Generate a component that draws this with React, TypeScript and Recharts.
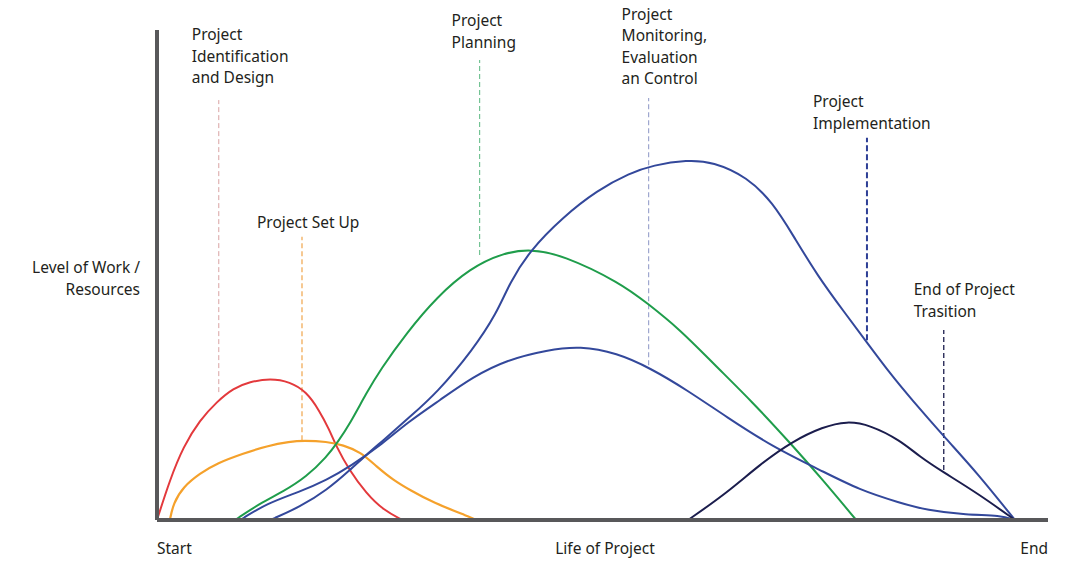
import { LineChart, Line, XAxis, YAxis, ReferenceLine } from 'recharts'

type Pt = { x: number; y: number }

// x: share of project life (0 = Start, 100 = close-out), y: level of work / resources
const identificationDesign: Pt[] = [
    { x: 0, y: 0 }, { x: 1.5, y: 8.2 }, { x: 3.07, y: 15.0 }, { x: 5.0, y: 20.4 },
    { x: 6.96, y: 24.1 }, { x: 8.9, y: 26.9 }, { x: 10.8, y: 28.2 }, { x: 13.2, y: 28.9 },
    { x: 15.5, y: 28.2 }, { x: 17.4, y: 26.2 }, { x: 18.9, y: 22.4 }, { x: 20.1, y: 18.4 },
    { x: 20.9, y: 15.0 }, { x: 22.4, y: 10.2 }, { x: 24.4, y: 5.4 }, { x: 26.4, y: 2.0 },
    { x: 28.6, y: 0 },
]

const setUp: Pt[] = [
    { x: 1.5, y: 0 }, { x: 1.9, y: 3.4 }, { x: 3.07, y: 6.8 }, { x: 5.0, y: 9.5 },
    { x: 7.0, y: 11.6 }, { x: 10.1, y: 13.6 }, { x: 12.8, y: 15.1 }, { x: 15.5, y: 16.0 },
    { x: 17.1, y: 16.2 }, { x: 19.8, y: 16.0 }, { x: 21.7, y: 15.3 }, { x: 23.7, y: 13.9 },
    { x: 25.6, y: 10.9 }, { x: 27.5, y: 8.2 }, { x: 29.5, y: 6.1 }, { x: 32.2, y: 3.5 },
    { x: 36.5, y: 0.6 }, { x: 37.2, y: 0 },
]

const planning: Pt[] = [
    { x: 9.1, y: 0 }, { x: 12.0, y: 3.4 }, { x: 14.7, y: 5.8 }, { x: 17.4, y: 8.8 },
    { x: 19.8, y: 12.9 }, { x: 21.1, y: 16.0 }, { x: 22.5, y: 19.7 }, { x: 24.4, y: 25.9 },
    { x: 26.0, y: 30.6 }, { x: 29.1, y: 38.2 }, { x: 32.6, y: 45.5 }, { x: 36.5, y: 51.4 },
    { x: 40.3, y: 54.5 }, { x: 43.5, y: 55.3 }, { x: 47.3, y: 54.1 }, { x: 54.0, y: 48.4 },
    { x: 57.1, y: 44.3 }, { x: 61.0, y: 38.8 }, { x: 64.8, y: 32.0 }, { x: 69.5, y: 23.9 },
    { x: 73.8, y: 15.7 }, { x: 77.3, y: 8.8 }, { x: 81.5, y: 0 },
]

const implementation: Pt[] = [
    { x: 13.2, y: 0 }, { x: 16.7, y: 2.7 }, { x: 19.8, y: 6.1 }, { x: 22.5, y: 10.2 },
    { x: 24.4, y: 13.3 }, { x: 26.4, y: 16.3 }, { x: 29.5, y: 21.1 }, { x: 32.6, y: 25.9 },
    { x: 36.8, y: 34.7 }, { x: 39.6, y: 42.2 }, { x: 41.1, y: 48.4 }, { x: 43.5, y: 55.1 },
    { x: 47.3, y: 61.8 }, { x: 51.3, y: 67.3 }, { x: 55.1, y: 70.8 }, { x: 57.8, y: 72.4 },
    { x: 61.8, y: 73.5 }, { x: 64.8, y: 73.1 }, { x: 68.8, y: 70.0 }, { x: 71.8, y: 64.7 },
    { x: 74.1, y: 58.2 }, { x: 77.0, y: 49.8 }, { x: 80.2, y: 42.2 }, { x: 82.8, y: 36.1 },
    { x: 85.4, y: 30.0 }, { x: 87.8, y: 24.9 }, { x: 92.1, y: 16.3 }, { x: 95.6, y: 9.6 },
    { x: 100, y: 0 },
]

const monitoring: Pt[] = [
    { x: 9.7, y: 0 }, { x: 12.8, y: 3.4 }, { x: 16.7, y: 5.8 }, { x: 19.8, y: 8.2 },
    { x: 22.5, y: 10.9 }, { x: 26.4, y: 15.7 }, { x: 29.1, y: 19.8 }, { x: 33.0, y: 24.5 },
    { x: 36.8, y: 29.2 }, { x: 40.8, y: 32.7 }, { x: 45.5, y: 34.7 }, { x: 49.3, y: 35.5 },
    { x: 53.6, y: 34.1 }, { x: 57.5, y: 31.0 }, { x: 61.8, y: 26.5 }, { x: 66.4, y: 21.0 },
    { x: 71.8, y: 14.9 }, { x: 77.3, y: 10.2 }, { x: 81.9, y: 6.1 }, { x: 86.6, y: 3.5 },
    { x: 89.7, y: 2.0 }, { x: 94.4, y: 1.0 }, { x: 98.3, y: 1.0 }, { x: 100, y: 0 },
]

const transition: Pt[] = [
    { x: 61.9, y: 0 }, { x: 66.4, y: 5.5 }, { x: 70.3, y: 11.4 }, { x: 74.1, y: 16.1 },
    { x: 77.6, y: 19.0 }, { x: 80.4, y: 20.2 }, { x: 83.1, y: 19.4 }, { x: 86.6, y: 16.3 },
    { x: 88.9, y: 12.9 }, { x: 91.6, y: 9.8 }, { x: 95.6, y: 5.5 }, { x: 100, y: 0 },
]

const curves = [
    { name: 'Project Identification and Design', data: identificationDesign, color: '#e3393c', width: 2 },
    { name: 'Project Set Up', data: setUp, color: '#f5a12b', width: 2.2 },
    { name: 'Project Planning', data: planning, color: '#1f9d4b', width: 2 },
    { name: 'Project Implementation', data: implementation, color: '#33489b', width: 2 },
    { name: 'Project Monitoring, Evaluation an Control', data: monitoring, color: '#33489b', width: 2 },
    { name: 'End of Project Trasition', data: transition, color: '#1b1d4d', width: 2 },
]

// pointer lines: x position, bottom and top of the dashed line, label lines
const markerX = [7.2, 16.9, 37.6, 57.3, 82.75, 91.7]
const markerFrom = [26.1, 16.3, 54.1, 31.6, 36.7, 10.2]
const markerTo = [85.7, 57.8, 93.9, 86.1, 78.0, 38.8]
const markerText = [
    ['Project', 'Identification', 'and Design'],
    ['Project Set Up'],
    ['Project', 'Planning'],
    ['Project', 'Monitoring,', 'Evaluation', 'an Control'],
    ['Project', 'Implementation'],
    ['End of Project', 'Trasition'],
]

const markerStyle = [
    { stroke: '#d9a3a3', width: 1, dash: '5 3', dx: -27, gap: 17 },
    { stroke: '#f0a54a', width: 1.2, dash: '5 3', dx: -45, gap: 9 },
    { stroke: '#74c394', width: 1.2, dash: '5 3', dx: -28, gap: 12 },
    { stroke: '#9ea6cf', width: 1.2, dash: '5 3', dx: -27, gap: 14 },
    { stroke: '#2e3f96', width: 2, dash: '6 3', dx: -54, gap: 9 },
    { stroke: '#1b1d4d', width: 1.3, dash: '5 3', dx: -30, gap: 13 },
]

const FONT = '"Noto Sans", "Open Sans", sans-serif'
const TEXT = '#231f20'
const SIZE = 15.5
const LINE_H = 21.5

const MarkerLabel = ({ viewBox, lines, dx, gap }: any) => {
    const x = viewBox.x + dx
    const last = viewBox.y - gap
    return (
        <text x={x} y={last - (lines.length - 1) * LINE_H} fill={TEXT} fontSize={SIZE} fontFamily={FONT}>
            {lines.map((l: string, i: number) => (
                <tspan key={i} x={x} dy={i === 0 ? 0 : LINE_H}>{l}</tspan>
            ))}
        </text>
    )
}

const axisText: React.CSSProperties = {
    position: 'absolute',
    fontFamily: FONT,
    fontSize: SIZE,
    lineHeight: '22px',
    color: TEXT,
    whiteSpace: 'nowrap',
}

export default function App() {
    return (
        <div style={{ position: 'absolute', left: 0, top: 0, width: 1090, height: 574, background: '#fff' }}>
            <LineChart
                width={1090}
                height={574}
                margin={{ top: 30, right: 42, left: 157, bottom: 54 }}
            >
                <XAxis type="number" dataKey="x" domain={[0, 103.85]} hide />
                <YAxis type="number" dataKey="y" domain={[0, 100]} hide />

                {markerX.map((x, i) => (
                    <ReferenceLine
                        key={'m' + i}
                        segment={[{ x, y: markerFrom[i] }, { x, y: markerTo[i] }]}
                        stroke={markerStyle[i].stroke}
                        strokeWidth={markerStyle[i].width}
                        strokeDasharray={markerStyle[i].dash}
                        label={(p: any) => (
                            <MarkerLabel
                                viewBox={p.viewBox}
                                lines={markerText[i]}
                                dx={markerStyle[i].dx}
                                gap={markerStyle[i].gap}
                            />
                        )}
                    />
                ))}

                {curves.map((c) => (
                    <Line
                        key={c.name}
                        data={c.data}
                        dataKey="y"
                        type="basis"
                        stroke={c.color}
                        strokeWidth={c.width}
                        dot={false}
                        activeDot={false}
                        isAnimationActive={false}
                    />
                ))}

                <ReferenceLine x={0} stroke="#58585a" strokeWidth={4} />
                <ReferenceLine y={0} stroke="#58585a" strokeWidth={4} />
            </LineChart>

            <div style={{ ...axisText, right: 1090 - 140, top: 256, textAlign: 'right' }}>
                Level of Work /<br />Resources
            </div>
            <div style={{ ...axisText, left: 157, top: 537 }}>Start</div>
            <div style={{ ...axisText, left: 505, width: 200, top: 537, textAlign: 'center' }}>Life of Project</div>
            <div style={{ ...axisText, right: 1090 - 1048, top: 537 }}>End</div>
        </div>
    )
}
